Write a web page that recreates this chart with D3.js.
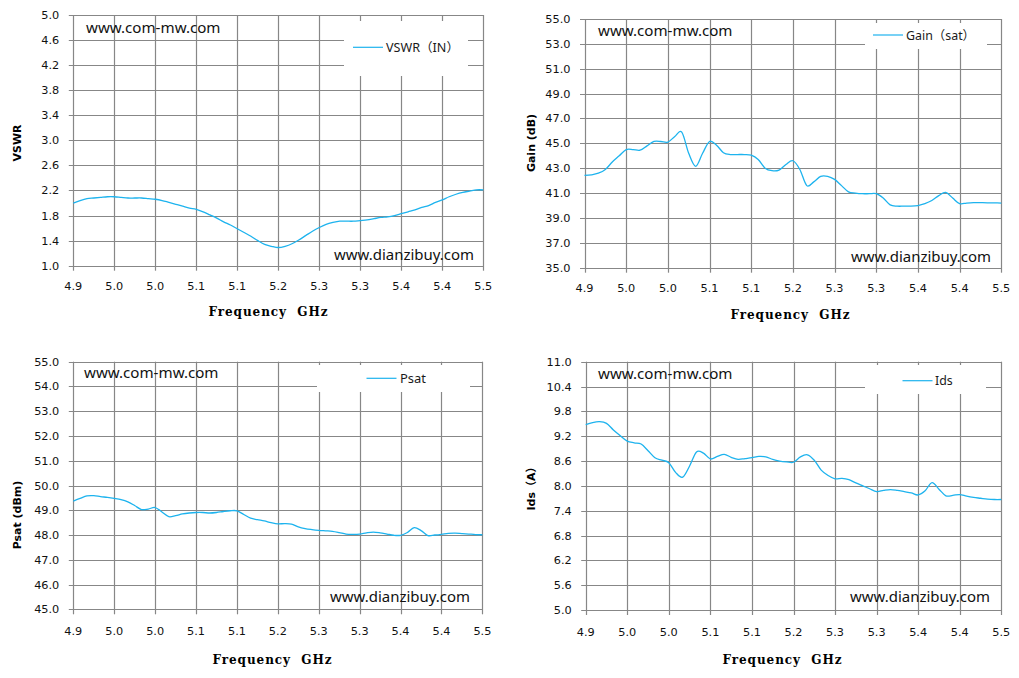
<!DOCTYPE html>
<html>
<head>
<meta charset="utf-8">
<script src="https://cdn.jsdelivr.net/npm/d3@7"></script>
<style>
  html, body { margin: 0; padding: 0; background: #ffffff; }
  svg { display: block; }
</style>
</head>
<body>
<svg id="chart" width="1019" height="678"></svg>
<script>
// ---------------- DATA ----------------
const freq = [4.90,4.91,4.92,4.93,4.94,4.95,4.96,4.97,4.98,4.99,
              5.00,5.01,5.02,5.03,5.04,5.05,5.06,5.07,5.08,5.09,
              5.10,5.11,5.12,5.13,5.14,5.15,5.16,5.17,5.18,5.19,
              5.20,5.21,5.22,5.23,5.24,5.25,5.26,5.27,5.28,5.29,
              5.30,5.31,5.32,5.33,5.34,5.35,5.36,5.37,5.38,5.39,
              5.40,5.41,5.42,5.43,5.44,5.45,5.46,5.47,5.48,5.49,5.50];

const vswr = [2.00,2.04,2.07,2.08,2.09,2.10,2.10,2.09,2.08,2.08,
              2.08,2.07,2.06,2.04,2.01,1.98,1.95,1.92,1.90,1.86,
              1.81,1.76,1.70,1.65,1.59,1.53,1.47,1.40,1.34,1.31,
              1.29,1.31,1.35,1.41,1.48,1.55,1.61,1.66,1.69,1.71,
              1.71,1.71,1.72,1.73,1.75,1.77,1.78,1.80,1.83,1.86,
              1.89,1.93,1.96,2.01,2.05,2.10,2.14,2.17,2.19,2.21,2.21];

const gain = [42.42,42.47,42.60,42.90,43.50,44.00,44.50,44.50,44.45,44.80,
              45.15,45.15,45.10,45.55,45.90,44.20,43.15,44.20,45.15,44.85,
              44.25,44.10,44.10,44.10,44.05,43.70,43.00,42.80,42.85,43.30,
              43.60,42.90,41.60,41.90,42.35,42.35,42.10,41.60,41.10,41.00,
              40.95,40.95,40.95,40.60,40.05,39.95,39.95,39.95,40.00,40.15,
              40.40,40.80,41.05,40.60,40.15,40.20,40.23,40.23,40.22,40.21,40.20];

const psat = [49.37,49.48,49.58,49.59,49.55,49.52,49.48,49.43,49.34,49.19,
              49.03,49.05,49.11,48.93,48.74,48.78,48.85,48.89,48.91,48.91,
              48.89,48.91,48.95,48.98,48.98,48.83,48.68,48.62,48.57,48.50,
              48.45,48.46,48.44,48.33,48.26,48.22,48.19,48.17,48.15,48.10,
              48.04,48.03,48.04,48.09,48.12,48.09,48.04,47.99,47.99,48.10,
              48.30,48.18,47.98,48.00,48.03,48.07,48.08,48.06,48.04,48.02,48.01];

const ids = [9.48,9.53,9.55,9.51,9.35,9.21,9.08,9.04,9.01,8.85,
             8.68,8.62,8.56,8.32,8.21,8.48,8.82,8.79,8.65,8.71,
             8.76,8.69,8.64,8.66,8.68,8.71,8.70,8.64,8.60,8.58,
             8.57,8.70,8.75,8.62,8.38,8.25,8.17,8.18,8.15,8.07,
             8.00,7.93,7.86,7.89,7.91,7.89,7.86,7.83,7.78,7.88,
             8.08,7.92,7.76,7.77,7.79,7.75,7.72,7.70,7.68,7.67,7.67];

const xTicks      = [4.90,4.96,5.02,5.08,5.14,5.20,5.26,5.32,5.38,5.44,5.50];
const xTickLabels = ["4.9","5.0","5.0","5.1","5.1","5.2","5.3","5.3","5.4","5.4","5.5"];

const vswrTicks = [1.0,1.4,1.8,2.2,2.6,3.0,3.4,3.8,4.2,4.6,5.0];
const gainTicks = [35,37,39,41,43,45,47,49,51,53,55];
const psatTicks = [45,46,47,48,49,50,51,52,53,54,55];
const idsTicks  = [5.0,5.6,6.2,6.8,7.4,8.0,8.6,9.2,9.8,10.4,11.0];

const seriesNames = ["VSWR（IN）", "Gain（sat）", "Psat", "Ids"];
const yTitles     = ["VSWR", "Gain (dB)", "Psat (dBm)", "Ids（A）"];
const xTitle      = "Frequency  GHz";
const watermarkTop = "www.com-mw.com";
const watermarkBottom = "www.dianzibuy.com";

// ---------------- LAYOUT ----------------
const panels = [
  { values: vswr, ticks: vswrTicks, name: seriesNames[0], ytitle: yTitles[0],
    box: {l: 73.3, r: 483.3, t: 15, b: 265.7},
    legend: {x0: 344, x1: 468, y0: 21, y1: 76, ly: 47.3, lx0: 353, lx1: 383, tx: 386, tw: 73},
    ytx: 17, yty: 143, xtx: 268, xty: 316, wm1: {x: 86, y: 33}, wm2: {x: 334, y: 260} },
  { values: gain, ticks: gainTicks, name: seriesNames[1], ytitle: yTitles[1],
    box: {l: 584.5, r: 1001.3, t: 19, b: 267.7},
    legend: {x0: 865, x1: 987, y0: 23, y1: 49, ly: 35, lx0: 873, lx1: 903, tx: 906, tw: 69},
    ytx: 531, yty: 143, xtx: 790, xty: 319, wm1: {x: 598, y: 36}, wm2: {x: 851, y: 262} },
  { values: psat, ticks: psatTicks, name: seriesNames[2], ytitle: yTitles[2],
    box: {l: 73.3, r: 482.4, t: 361.7, b: 609.3},
    legend: {x0: 317, x1: 470, y0: 365, y1: 392, ly: 378.3, lx0: 366.5, lx1: 396.5, tx: 400, tw: 26},
    ytx: 17, yty: 515, xtx: 272, xty: 664, wm1: {x: 84, y: 378}, wm2: {x: 330, y: 601.5} },
  { values: ids, ticks: idsTicks, name: seriesNames[3], ytitle: yTitles[3],
    box: {l: 585.7, r: 1001.3, t: 361.7, b: 610},
    legend: {x0: 865, x1: 986, y0: 365, y1: 394, ly: 380.7, lx0: 902.5, lx1: 932.5, tx: 935, tw: 17.7},
    ytx: 531, yty: 486, xtx: 782, xty: 664, wm1: {x: 598, y: 379}, wm2: {x: 850, y: 601.5} }
];

const GRID = "#878787";
const LINE = "#1db3ee";
const svg = d3.select("#chart");

panels.forEach((p, i) => {
  const g = svg.append("g");
  const x = d3.scaleLinear().domain([xTicks[0], xTicks[xTicks.length - 1]]).range([p.box.l, p.box.r]);
  const y = d3.scaleLinear().domain([p.ticks[0], p.ticks[p.ticks.length - 1]]).range([p.box.b, p.box.t]);

  // vertical gridlines
  g.append("g").selectAll("line").data(xTicks).join("line")
    .attr("x1", d => Math.round(x(d)) + 0.5).attr("x2", d => Math.round(x(d)) + 0.5)
    .attr("y1", y(p.ticks[p.ticks.length - 1])).attr("y2", p.box.b + 5)
    .attr("stroke", GRID).attr("stroke-width", 1.2);
  // horizontal gridlines
  g.append("g").selectAll("line").data(p.ticks).join("line")
    .attr("x1", p.box.l - 4.5).attr("x2", p.box.r)
    .attr("y1", d => Math.round(y(d)) + 0.5).attr("y2", d => Math.round(y(d)) + 0.5)
    .attr("stroke", GRID).attr("stroke-width", 1.2);

  // y tick labels
  g.append("g").selectAll("text").data(p.ticks).join("text")
    .attr("x", p.box.l - 14).attr("y", d => y(d) + 4)
    .attr("text-anchor", "end")
    .attr("font-family", "DejaVu Sans, Verdana, sans-serif").attr("font-size", 11.3)
    .attr("fill", "#111")
    .text(d => d.toFixed(1));

  // x tick labels
  g.append("g").selectAll("text").data(xTicks).join("text")
    .attr("x", d => x(d)).attr("y", p.box.b + (i < 2 ? 24.5 : 26))
    .attr("text-anchor", "middle")
    .attr("font-family", "DejaVu Sans, Verdana, sans-serif").attr("font-size", 11.3)
    .attr("fill", "#111")
    .text((d, k) => xTickLabels[k]);

  // legend background covering gridlines
  g.append("rect")
    .attr("x", p.legend.x0).attr("y", p.legend.y0)
    .attr("width", p.legend.x1 - p.legend.x0).attr("height", p.legend.y1 - p.legend.y0)
    .attr("fill", "#fff");
  g.append("line")
    .attr("x1", p.legend.lx0).attr("x2", p.legend.lx1)
    .attr("y1", p.legend.ly).attr("y2", p.legend.ly)
    .attr("stroke", LINE).attr("stroke-width", 1.2);
  g.append("text")
    .attr("x", p.legend.tx).attr("y", p.legend.ly + 4.5)
    .attr("font-family", "Noto Sans, Noto Sans CJK SC, sans-serif").attr("font-size", 12.5)
    .attr("textLength", p.legend.tw).attr("lengthAdjust", "spacingAndGlyphs")
    .attr("fill", "#1a1a1a")
    .text(p.name);

  // series line (Excel-style smoothed line)
  const line = d3.line()
    .x((d, k) => x(freq[k]))
    .y(d => y(d))
    .curve(d3.curveCatmullRom.alpha(0));
  g.append("path")
    .datum(p.values)
    .attr("d", line)
    .attr("fill", "none")
    .attr("stroke", LINE).attr("stroke-width", 1.3);

  // watermarks
  g.append("text")
    .attr("x", p.wm1.x).attr("y", p.wm1.y)
    .attr("font-family", "Noto Sans, sans-serif").attr("font-size", 15)
    .attr("textLength", 134.5).attr("lengthAdjust", "spacingAndGlyphs")
    .attr("fill", "#111")
    .text(watermarkTop);
  g.append("text")
    .attr("x", p.wm2.x).attr("y", p.wm2.y)
    .attr("font-family", "Noto Sans, sans-serif").attr("font-size", 15)
    .attr("textLength", 140).attr("lengthAdjust", "spacingAndGlyphs")
    .attr("fill", "#111")
    .text(watermarkBottom);

  // y axis title
  g.append("text")
    .attr("transform", `translate(${p.ytx + 4},${p.yty}) rotate(-90)`)
    .attr("text-anchor", "middle")
    .attr("font-family", "DejaVu Sans, Noto Sans CJK SC, sans-serif").attr("font-size", 11)
    .attr("font-weight", "bold")
    .attr("fill", "#000")
    .text(p.ytitle);

  // x axis title
  g.append("text")
    .attr("x", p.xtx).attr("y", p.xty)
    .attr("text-anchor", "middle")
    .attr("font-family", "DejaVu Serif, serif").attr("font-size", 12)
    .attr("font-weight", "bold")
    .attr("xml:space", "preserve")
    .style("white-space", "pre")
    .attr("textLength", 119).attr("lengthAdjust", "spacing")
    .attr("fill", "#000")
    .text(xTitle);
});
</script>
</body>
</html>
